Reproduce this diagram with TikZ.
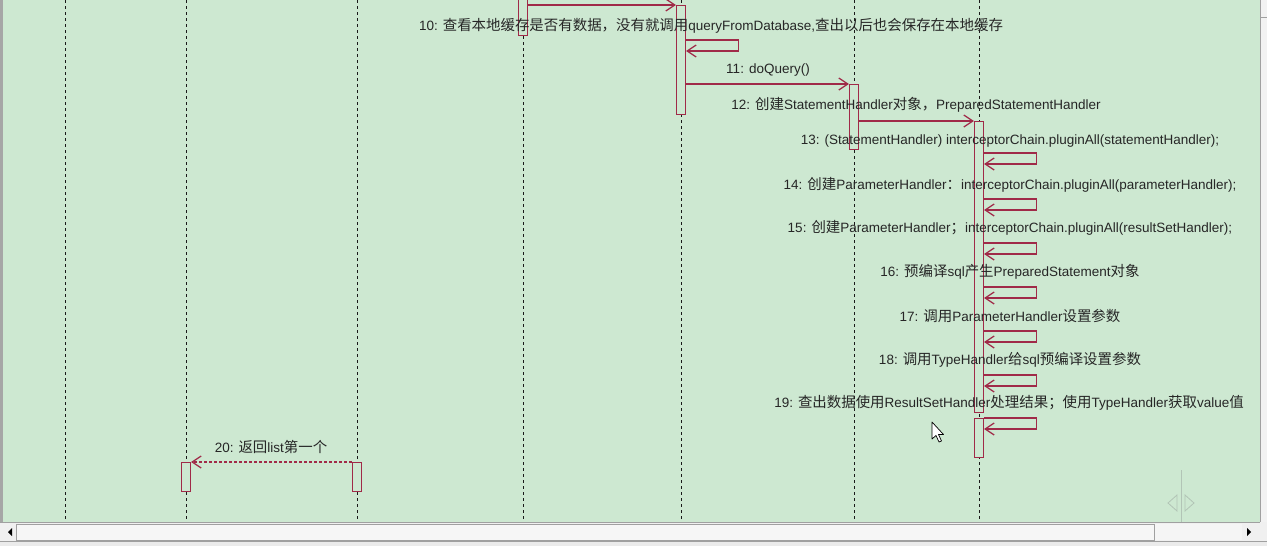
\documentclass[tikz,border=0pt]{standalone}
\usepackage{fontspec}
\setmainfont{Liberation Sans}
\newfontfamily\zhfont[Scale=1.07]{Noto Sans CJK SC}
\newcommand{\zh}[1]{{\zhfont #1}}
\usetikzlibrary{arrows.meta}

\definecolor{diagbg}{RGB}{205,232,209}
\definecolor{msgred}{RGB}{160,42,72}
\definecolor{barbg}{RGB}{240,240,240}
\definecolor{barline}{RGB}{160,160,160}
\definecolor{ghost}{RGB}{178,196,182}

\tikzset{
	lifeline/.style={line width=1pt, dash pattern=on 3pt off 3pt, black!90},
	actbox/.style={draw=msgred, fill=diagbg, line width=1.2pt, minimum width=9pt, inner sep=0pt, anchor=north},
	msg/.style={draw=msgred, line width=1.2pt, -{Straight Barb[length=9pt,width=12pt]}},
	retmsg/.style={msg, dash pattern=on 3pt off 2pt},
	msglabel/.style={font=\fontsize{13.5}{15}\selectfont, text=black!85, inner sep=0pt}
}

\begin{document}
\begin{tikzpicture}[x=1pt,y=-1pt]
	\useasboundingbox (0,0) rectangle (1267,546);
	\fill[diagbg] (0,0) rectangle (1260,522);

	% lifelines
	\foreach \x in {65,186,357,523,681,854,979}
		\draw[lifeline] (\x,0) -- (\x,522);

	% activation boxes
	\node[actbox, minimum height=37pt] (a4) at (523,-2) {};
	\node[actbox, minimum height=109pt] (a5) at (681,5) {};
	\node[actbox, minimum height=65pt] (a6) at (854,84) {};
	\node[actbox, minimum height=291pt] (a7) at (979,121) {};
	\node[actbox, minimum height=39pt] (a7b) at (979,418) {};
	\node[actbox, minimum height=29pt] (a2) at (186,462) {};
	\node[actbox, minimum height=29pt] (a3) at (357,462) {};

	\coordinate (m9) at (0,5);
	\coordinate (m10) at (0,40);
	\coordinate (m11) at (0,84);
	\coordinate (m12) at (0,121);
	\coordinate (m20) at (0,462);

	% messages
	\draw[msg] (a4.east |- m9) -- (a5.west |- m9);
	\draw[msg] (a5.east |- m10) -- ++(52,0) |- ([yshift=-11pt]a5.east |- m10);
	\draw[msg] (a5.east |- m11) -- (a6.west |- m11);
	\draw[msg] (a6.east |- m12) -- (a7.west |- m12);
	\foreach \b/\y in {a7/153,a7/199,a7/243,a7/287,a7/331,a7/375,a7b/418}
		\draw[msg] (\b.east |- 0,\y) -- ++(52,0) |- (\b.east |- 0,\y+11);
	\draw[retmsg] (a3.west |- m20) -- (a2.east |- m20);

	% labels
	\node[msglabel] (l10) at (711,26) {10: \zh{查看本地缓存是否有数据，没有就调用}queryFromDatabase,\zh{查出以后也会保存在本地缓存}};
	\node[msglabel] (l11) at (768,70) {11: doQuery()};
	\node[msglabel] (l12) at (916,105) {12: \zh{创建}StatementHandler\zh{对象，}PreparedStatementHandler};
	\node[msglabel] (l13) at (1010,141) {13: (StatementHandler) interceptorChain.pluginAll(statementHandler);};
	\node[msglabel] (l14) at (1010,185) {14: \zh{创建}ParameterHandler\zh{：}interceptorChain.pluginAll(parameterHandler);};
	\node[msglabel] (l15) at (1010,228) {15: \zh{创建}ParameterHandler\zh{；}interceptorChain.pluginAll(resultSetHandler);};
	\node[msglabel] (l16) at (1010,272) {16: \zh{预编译}sql\zh{产生}PreparedStatement\zh{对象}};
	\node[msglabel] (l17) at (1010,316) {17: \zh{调用}ParameterHandler\zh{设置参数}};
	\node[msglabel] (l18) at (1010,360) {18: \zh{调用}TypeHandler\zh{给}sql\zh{预编译设置参数}};
	\node[msglabel] (l19) at (1009,403) {19: \zh{查出数据使用}ResultSetHandler\zh{处理结果；使用}TypeHandler\zh{获取}value\zh{值}};
	\node[msglabel] (l20) at (271,447) {20: \zh{返回}list\zh{第一个}};

	% mouse pointer
	\draw[black, fill=white, line width=0.7pt, line join=round, shift={(932,422)}]
		(0,0) -- (0,17) -- (4,13.5) -- (7,20) -- (9.5,19) -- (6.5,12.5) -- (11.5,12.5) -- cycle;

	% faint split icon
	\draw[ghost, line width=0.8pt] (1181,470) -- (1181,522);
	\draw[ghost, line width=0.8pt] (1177,495) -- (1168,503) -- (1177,511) -- cycle;
	\draw[ghost, line width=0.8pt] (1185,495) -- (1194,503) -- (1185,511) -- cycle;

	% window frame and scrollbars
	\fill[gray!70] (0,0) rectangle (3,522);
	\fill[barbg] (0,522) rectangle (1267,541);
	\draw[barline] (0,522.5) -- (1260,522.5);
	\filldraw[fill=barbg!60!white, draw=barline] (16,524) rectangle (1154,540);
	\fill[white!96!black] (1155,524) rectangle (1242,540);
	\fill[black] (12,528) -- (8,532) -- (12,536) -- cycle;
	\fill[black] (1247,528) -- (1251,532) -- (1247,536) -- cycle;
	\draw[barline] (0,541.5) -- (1267,541.5);
	\fill[white!92!black] (0,542) rectangle (1267,546);
	\fill[white!95!black] (1260,0) rectangle (1267,522);
	\draw[barline] (1260,17) -- (1267,17);
	\draw[barline] (1260,0) -- (1260,522);
\end{tikzpicture}
\end{document}
